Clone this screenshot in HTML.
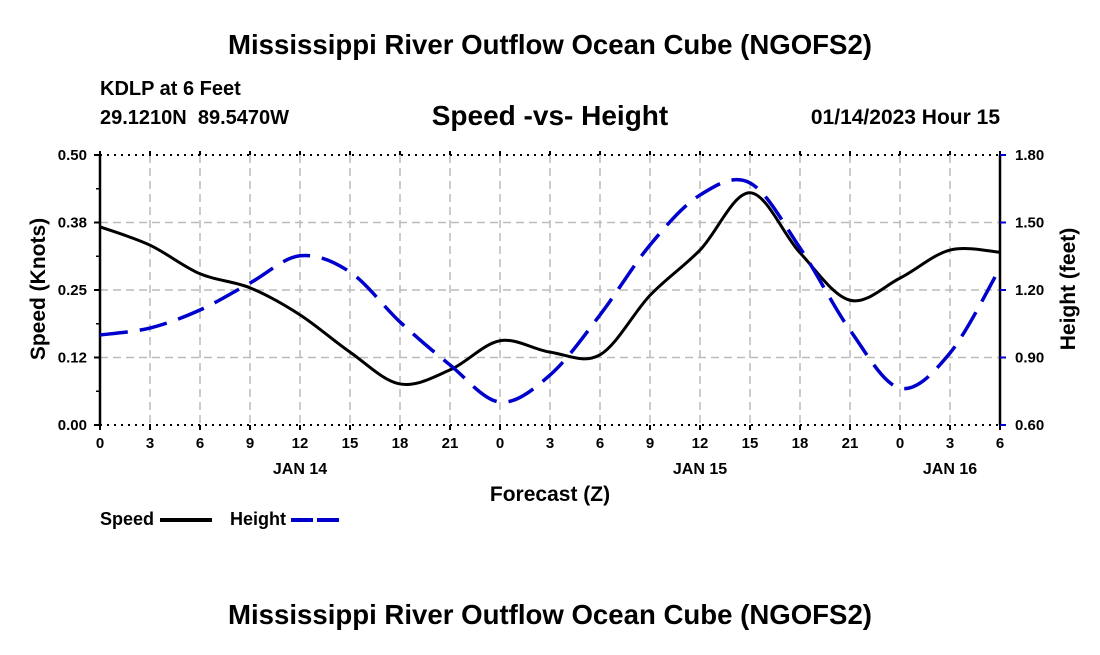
<!DOCTYPE html>
<html><head><meta charset="utf-8"><style>
body{margin:0;background:#fff;width:1100px;height:650px;overflow:hidden;font-family:"Liberation Sans",sans-serif;}
svg text{font-family:"Liberation Sans",sans-serif;font-weight:bold;fill:#000;white-space:pre;}
</style></head><body>
<svg id="c" width="1100" height="650"></svg>
<script>
const hours=[0,3,6,9,12,15,18,21,24,27,30,33,36,39,42,45,48,51,54];
const speedVals=[0.367,0.333,0.28,0.254,0.204,0.135,0.076,0.102,0.156,0.135,0.13,0.24,0.324,0.43,0.319,0.231,0.272,0.324,0.32];
const heightVals=[1.0,1.031,1.111,1.231,1.352,1.28,1.058,0.867,0.702,0.822,1.089,1.4,1.622,1.676,1.387,1.022,0.764,0.92,1.298];
const xTickLabels=["0","3","6","9","12","15","18","21","0","3","6","9","12","15","18","21","0","3","6"];
const leftTicks=[0,0.125,0.25,0.375,0.5];
const leftTickLabels=["0.00","0.12","0.25","0.38","0.50"];
const rightTicks=[0.6,0.9,1.2,1.5,1.8];
const rightTickLabels=["0.60","0.90","1.20","1.50","1.80"];
const dayLabels=["JAN 14","JAN 15","JAN 16"];
const dayHours=[12,36,51];

const X0=100,X1=1000,Y0=425,Y1=155;
const xs=h=>X0+(h/54)*(X1-X0);
const ysL=v=>Y0-(v/0.5)*(Y0-Y1);
const ysR=v=>Y0-((v-0.6)/1.2)*(Y0-Y1);
const svg=document.getElementById('c');
const NS='http://www.w3.org/2000/svg';
function mk(t,a,p){const e=document.createElementNS(NS,t);for(const k in a)e.setAttribute(k,a[k]);(p||svg).appendChild(e);return e;}
function txt(s,x,y,size,anchor,name){const e=mk('text',{x:x,y:y,'font-size':size,'text-anchor':anchor||'start'});e.textContent=s;


return e;}

txt("Mississippi River Outflow Ocean Cube (NGOFS2)",550,54,27.6,'middle','chart-title');
txt("KDLP at 6 Feet",100,95,20,'start','station-label');
txt("29.1210N  89.5470W",100,124,20,'start','coordinates-label');
txt("Speed -vs- Height",550,125,28,'middle','chart-subtitle');
txt("01/14/2023 Hour 15",1000,124,21,'end','date-label');
txt("Mississippi River Outflow Ocean Cube (NGOFS2)",550,624,27.6,'middle','footer-title');

const g=mk('g',{});


for(let i=1;i<18;i++){mk('line',{x1:xs(i*3),x2:xs(i*3),y1:Y1,y2:Y0,stroke:'#bbb','stroke-width':1.5,'stroke-dasharray':'8,5'},g);}
for(let i=1;i<4;i++){const y=ysL(leftTicks[i]);mk('line',{x1:X0,x2:X1,y1:y,y2:y,stroke:'#bbb','stroke-width':1.5,'stroke-dasharray':'8,5'},g);}
mk('line',{x1:X0,x2:X1,y1:Y1,y2:Y1,stroke:'#000','stroke-width':2,'stroke-dasharray':'2,5'});
mk('line',{x1:X0,x2:X1,y1:Y0,y2:Y0,stroke:'#000','stroke-width':2,'stroke-dasharray':'2,5'});
const la=mk('line',{x1:X0,x2:X0,y1:Y1,y2:Y0,stroke:'#000','stroke-width':2.5});


const ra=mk('line',{x1:X1,x2:X1,y1:Y1,y2:Y0,stroke:'#000','stroke-width':2.5});


for(let i=0;i<=18;i++){const x=xs(i*3);mk('line',{x1:x,x2:x,y1:Y0,y2:Y0+5,stroke:'#000','stroke-width':2});mk('line',{x1:x,x2:x,y1:Y1-4,y2:Y1,stroke:'#000','stroke-width':2});
txt(xTickLabels[i],x,448,15,'middle','x-tick-label');}
for(let i=0;i<dayLabels.length;i++)txt(dayLabels[i],xs(dayHours[i]),474,16,'middle','day-label');
for(let i=0;i<leftTicks.length;i++){const y=ysL(leftTicks[i]);mk('line',{x1:X0-6,x2:X0,y1:y,y2:y,stroke:'#000','stroke-width':2});
txt(leftTickLabels[i],87,y+5,15,'end','left-tick-label');}
for(let i=0;i<8;i++){const y=ysL(0.0625*i);if(i%2){mk('line',{x1:X0-4,x2:X0,y1:y,y2:y,stroke:'#000','stroke-width':1.5});}}
for(let i=0;i<rightTicks.length;i++){const y=ysR(rightTicks[i]);mk('line',{x1:X1,x2:X1+6,y1:y,y2:y,stroke:'#00c','stroke-width':2});
txt(rightTickLabels[i],1015,y+5,15,'start','right-tick-label');}
const yl=txt("Speed (Knots)",0,0,21,'middle','y-axis-title-left');yl.setAttribute('transform','translate(45,289) rotate(-90)');
const yr=txt("Height (feet)",0,0,21,'middle','y-axis-title-right');yr.setAttribute('transform','translate(1075,289) rotate(-90)');
txt("Forecast (Z)",550,501,21,'middle','x-axis-title');

function smooth(pts){let d='M'+pts[0][0]+','+pts[0][1];for(let i=0;i<pts.length-1;i++){const p0=pts[Math.max(0,i-1)],p1=pts[i],p2=pts[i+1],p3=pts[Math.min(pts.length-1,i+2)];
const c1=[p1[0]+(p2[0]-p0[0])/6,p1[1]+(p2[1]-p0[1])/6],c2=[p2[0]-(p3[0]-p1[0])/6,p2[1]-(p3[1]-p1[1])/6];
d+=' C'+c1[0]+','+c1[1]+' '+c2[0]+','+c2[1]+' '+p2[0]+','+p2[1];}return d;}
const sp=mk('path',{d:smooth(hours.map((h,i)=>[xs(h),ysL(speedVals[i])])),fill:'none',stroke:'#000','stroke-width':3});


const hp=mk('path',{d:smooth(hours.map((h,i)=>[xs(h),ysR(heightVals[i])])),fill:'none',stroke:'#00c','stroke-width':3.5,'stroke-dasharray':'28,12'});



txt("Speed",100,525,18,'start','legend-speed-label');
const l1=mk('line',{x1:160,x2:212,y1:520,y2:520,stroke:'#000','stroke-width':4});


txt("Height",230,525,18,'start','legend-height-label');
const l2=mk('line',{x1:291,x2:343,y1:520,y2:520,stroke:'#00c','stroke-width':4,'stroke-dasharray':'22,4'});


</script>
</body></html>
